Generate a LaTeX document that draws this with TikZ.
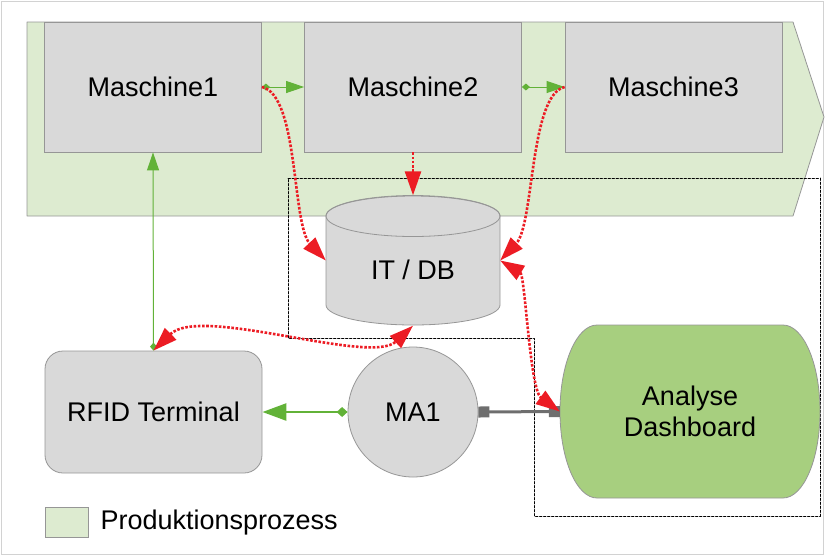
\documentclass[tikz,border=0pt]{standalone}
\usepackage{fontspec}
\setmainfont{Liberation Sans}
\usepackage{tkz-euclide}
\usetikzlibrary{arrows.meta,positioning}

\definecolor{prodgreen}{RGB}{221,235,208}
\definecolor{dashgreen}{RGB}{167,207,127}
\definecolor{linegreen}{RGB}{98,178,56}
\definecolor{flowred}{RGB}{236,28,36}
\definecolor{boxgrey}{RGB}{217,217,217}
\definecolor{rimgrey}{RGB}{150,150,150}
\definecolor{wiregrey}{RGB}{110,110,110}

\tikzset{
  box/.style={draw=rimgrey,fill=boxgrey,line width=0.8pt,inner sep=0pt,
    align=center,font=\fontsize{27}{31}\selectfont},
  machine/.style={box,minimum width=217,minimum height=130},
  terminal/.style={box,rounded corners=18,minimum width=217,minimum height=122},
  reader/.style={box,circle,minimum size=130},
  store/.style={inner sep=0pt,font=\fontsize{27}{31}\selectfont,
    minimum width=174,minimum height=130,text height=38.4pt,text depth=0pt},
  redhead/.tip={Triangle[length=24pt,width=16pt]},
  thinhead/.tip={Triangle[length=18pt,width=12pt]},
  thindia/.tip={Diamond[length=8pt,width=7pt]},
  thickhead/.tip={Triangle[length=24pt,width=17pt]},
  thickdia/.tip={Diamond[length=11pt,width=10pt]},
  pad/.tip={Rectangle[length=11pt,width=11pt]},
  redflow/.style={flowred,line width=2.6pt,dash pattern=on 2.6pt off 1.6pt},
  greenlink/.style={linegreen,line width=1pt,thindia-thinhead},
}

\begin{document}
\begin{tikzpicture}[x=1pt,y=-1pt]
    \useasboundingbox (0,0) rectangle (826,558);
    % Definitions:
    \tkzDefPoint(27,22){p1} % Production arrow.
    \tkzDefPoint(793,22){p2}
    \tkzDefPoint(824,117){p3}
    \tkzDefPoint(793,216){p4}
    \tkzDefPoint(27,216){p5}
    \tkzDefPoint(288,178){q1} % Dotted region.
    \tkzDefPoint(820,178){q2}
    \tkzDefPoint(820,516){q3}
    \tkzDefPoint(534,516){q4}
    \tkzDefPoint(534,338){q5}
    \tkzDefPoint(288,338){q6}
    \tkzDefPoint(597,325){d1} % Dashboard outline.
    \tkzDefPoint(783,325){d2}
    \tkzDefPoint(783,498){d3}
    \tkzDefPoint(597,498){d4}
    \tkzDefPoint(326,216){c1} % Cylinder outline.
    \tkzDefPoint(326,305){c2}
    \tkzDefPoint(500,216){c4}
    \tkzDefPoint(413,216){ct}
    \tkzDefPoint(153,87){m1}
    \tkzDefPoint(413,87){m2}
    \tkzDefPoint(673.5,87){m3}
    \tkzDefPoint(413,260.5){db}
    \tkzDefPoint(153.5,412){rf}
    \tkzDefPoint(413,412){ma}
    \tkzDefPoint(690,411.5){da}
    \tkzDefPoint(66.5,522.5){ky}
    % Drawing:
    \draw[gray!35,line width=1pt] (1,1) rectangle (823,554);
    \tkzDrawPolygon[draw=rimgrey,fill=prodgreen,line width=0.8pt](p1,p2,p3,p4,p5)
    \tkzDrawPolygon[black,line width=0.9pt,dash pattern=on 2.5pt off 1.5pt](q1,q2,q3,q4,q5,q6)
    \filldraw[fill=dashgreen,draw=rimgrey,line width=0.8pt] (d1) -- (d2)
      arc[start angle=-90,end angle=90,x radius=37,y radius=86.5] -- (d4)
      arc[start angle=90,end angle=270,x radius=37,y radius=86.5] -- cycle;
    \filldraw[fill=boxgrey,draw=rimgrey,line width=0.8pt] (c1) -- (c2)
      arc[start angle=180,end angle=0,x radius=87,y radius=20] -- (c4)
      arc[start angle=0,end angle=-180,x radius=87,y radius=20] -- cycle;
    \draw[rimgrey,line width=0.8pt] (ct) ellipse [x radius=87,y radius=20.5];
    \node[machine] (M1) at (m1) {Maschine1};
    \node[machine] (M2) at (m2) {Maschine2};
    \node[machine] (M3) at (m3) {Maschine3};
    \node[store] (DB) at (db) {IT / DB};
    \node[terminal] (RF) at (rf) {RFID Terminal};
    \node[reader] (MA) at (ma) {MA1};
    \node[align=center,inner sep=0pt,minimum width=260,minimum height=173,
      font=\fontsize{27}{31}\selectfont] (DA) at (da) {Analyse\\Dashboard};
    \node[draw=rimgrey,fill=prodgreen,line width=0.8pt,minimum width=43,
      minimum height=30] (KY) at (ky) {};
    % Connectors:
    \draw[greenlink] (M1.east) -- (M2.west);
    \draw[greenlink] (M2.east) -- (M3.west);
    \draw[greenlink] (RF.north) -- (M1.south);
    \draw[linegreen,line width=2.5pt,thickdia-thickhead] (MA.west) -- (RF.east);
    \draw[wiregrey,line width=3pt,pad-pad] (MA.east) -- (DA.west);
    \draw[redflow,-redhead] (M1.east) .. controls +(37,8) and +(-34,-36) .. (DB.west);
    \draw[redflow,-redhead] (M3.west) .. controls +(-35,8) and +(34,-36) .. (DB.east);
    \draw[redflow,-redhead] (M2.south) -- (DB.north);
    \draw[redflow,redhead-redhead] (RF.north) .. controls +(47,-46) and +(-43,40) .. (DB.south);
    \draw[redflow,redhead-redhead] (DB.east) .. controls +(25,15) and +(-30,-22) .. (DA.west);
    % Labels:
    \node[right=12pt of KY,inner sep=0pt,font=\fontsize{27}{31}\selectfont] (KT) {Produktionsprozess};
\end{tikzpicture}
\end{document}
